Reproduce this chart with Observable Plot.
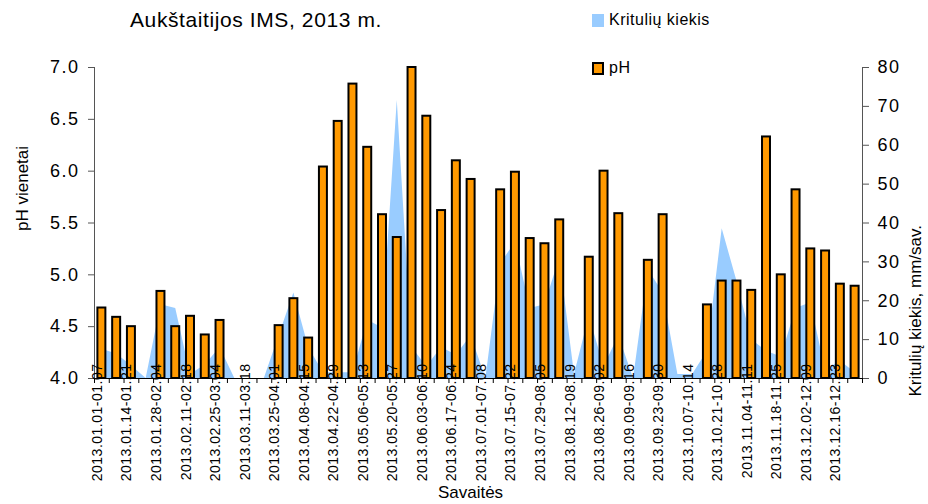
<!DOCTYPE html>
<html><head><meta charset="utf-8">
<script src="https://cdn.jsdelivr.net/npm/d3@7"></script>
<script src="https://cdn.jsdelivr.net/npm/@observablehq/plot@0.6"></script>
<style>
html,body{margin:0;padding:0;background:#fff;}
#wrap{position:relative;width:928px;height:504px;font-family:"Liberation Sans",Arial,sans-serif;color:#000;}
#chart svg{display:block;}
#title{position:absolute;left:130px;top:8px;font-size:21px;letter-spacing:0.6px;}
.leg{position:absolute;left:592px;font-size:16px;letter-spacing:0.5px;display:flex;align-items:center;}
.sw{display:inline-block;width:12px;height:13px;margin-right:5px;box-sizing:border-box;}
.xlab text{letter-spacing:0.5px;}
.tk text{letter-spacing:1.5px;}
</style></head>
<body>
<div id="wrap">
  <div id="chart"></div>
  <div id="title"></div>
  <div class="leg" style="top:11px"><span class="sw" style="background:#99CCFF"></span><span id="leg1"></span></div>
  <div class="leg" style="top:59px"><span class="sw" style="background:#FF9900;border:2px solid #000"></span><span id="leg2"></span></div>
</div>
<script>
const titleText = "Aukštaitijos IMS, 2013 m.";
const seriesNames = ["Kritulių kiekis", "pH"];
const yLeftLabel = "pH vienetai";
const yRightLabel = "Kritulių kiekis, mm/sav.";
const xLabel = "Savaitės";

// labels shown for every second week (week index 0,2,4,...)
const weekLabels = [
  "2013.01.01-01.07","2013.01.14-01.21","2013.01.28-02.04","2013.02.11-02.18",
  "2013.02.25-03.04","2013.03.11-03.18","2013.03.25-04.01","2013.04.08-04.15",
  "2013.04.22-04.29","2013.05.06-05.13","2013.05.20-05.27","2013.06.03-06.10",
  "2013.06.17-06.24","2013.07.01-07.08","2013.07.15-07.22","2013.07.29-08.05",
  "2013.08.12-08.19","2013.08.26-09.02","2013.09.09-09.16","2013.09.23-09.30",
  "2013.10.07-10.14","2013.10.21-10.28","2013.11.04-11.11","2013.11.18-11.25",
  "2013.12.02-12.09","2013.12.16-12.23"
];

// weekly pH (null = no sample)
const phValues = [
  4.68, 4.59, 4.50, null, 4.84, 4.50, 4.60, 4.42, 4.56, null,
  null, null, 4.51, 4.77, 4.39, 6.04, 6.48, 6.84, 6.23, 5.58,
  5.36, 7.00, 6.53, 5.62, 6.10, 5.92, null, 5.82, 5.99, 5.35,
  5.30, 5.53, null, 5.17, 6.00, 5.59, null, 5.14, 5.58, null,
  null, 4.71, 4.94, 4.94, 4.85, 6.33, 5.00, 5.82, 5.25, 5.23,
  4.91, 4.89
];

// weekly precipitation, mm
const precipValues = [
  7.5, 6.3, 3.3, 0, 19, 18, 1, 3.5, 8, 0,
  0, 0, 11, 22, 8, 1.5, 1.5, 1.5, 15, 13,
  71.5, 8, 3, 8, 6, 11, 0, 29.5, 35, 18,
  19, 31, 1, 16, 3, 11, 0, 28, 22, 1,
  1, 7, 38.5, 25, 10, 7, 5.5, 18, 19.5, 2,
  4.5, 1.5
];

const phTicks = [4.0, 4.5, 5.0, 5.5, 6.0, 6.5, 7.0];
const mmTicks = [0, 10, 20, 30, 40, 50, 60, 70, 80];

const phMin = 4, phMax = 7, mmMax = 80;
const mmToPh = (m) => phMin + m * (phMax - phMin) / mmMax;
const phToMm = (p) => (p - phMin) * mmMax / (phMax - phMin);

document.getElementById("title").textContent = titleText;
document.getElementById("leg1").textContent = seriesNames[0];
document.getElementById("leg2").textContent = seriesNames[1];

const nWeeks = phValues.length;
const boundaries = d3.range(nWeeks + 1);
const axisColor = "#555";

const chart = Plot.plot({
  width: 928,
  height: 504,
  marginLeft: 94,
  marginRight: 66,
  marginTop: 67,
  marginBottom: 126,
  style: {fontFamily: "'Liberation Sans', Arial, sans-serif", background: "white", color: "#000"},
  x: {domain: [0, nWeeks], axis: null},
  y: {domain: [phMin, phMax], axis: null},
  marks: [
    Plot.areaY(precipValues, {x: (d, i) => i + 0.5, y1: phMin, y2: d => mmToPh(d), fill: "#99CCFF", curve: "linear"}),
    Plot.rectY(phValues, {filter: d => d != null, x1: (d, i) => i + 0.23, x2: (d, i) => i + 0.77, y1: phMin, y2: d => d, fill: "#FF9900", stroke: "#000", strokeWidth: 2}),
    Plot.ruleY([phMin], {stroke: "#000", strokeWidth: 1}),
    Plot.ruleX([0], {y1: phMin, y2: phMax, stroke: axisColor}),
    Plot.ruleX([nWeeks], {y1: phMin, y2: phMax, stroke: axisColor}),
    Plot.axisX(boundaries, {anchor: "bottom", tickSize: 5, tickFormat: () => "", stroke: "#000", label: null}),
    Plot.axisY(phTicks, {anchor: "left", tickSize: 6, tickPadding: 9, tickFormat: d3.format(".1f"), fontSize: 18, stroke: axisColor, label: null, className: "tk"}),
    Plot.axisY(mmTicks.map(mmToPh), {anchor: "right", tickSize: 6, tickPadding: 9, tickFormat: d => String(Math.round(phToMm(d))), fontSize: 18, stroke: axisColor, label: null, className: "tk"}),
    Plot.text(weekLabels, {x: (d, i) => 2 * i + 0.5, frameAnchor: "bottom", rotate: -90, textAnchor: "end", dy: -15, fontSize: 14, text: d => d, fill: "#000", className: "xlab"}),
    Plot.text([yLeftLabel], {frameAnchor: "left", rotate: -90, dx: -72, dy: 8, fontSize: 17, text: d => d, fill: "#000"}),
    Plot.text([yRightLabel], {frameAnchor: "right", rotate: -90, dx: 53, dy: 2, fontSize: 17, text: d => d, fill: "#000"}),
    Plot.text([xLabel], {frameAnchor: "bottom", dx: -8, dy: 119, fontSize: 17, text: d => d, fill: "#000"})
  ]
});
document.getElementById("chart").appendChild(chart);
</script>
</body></html>
